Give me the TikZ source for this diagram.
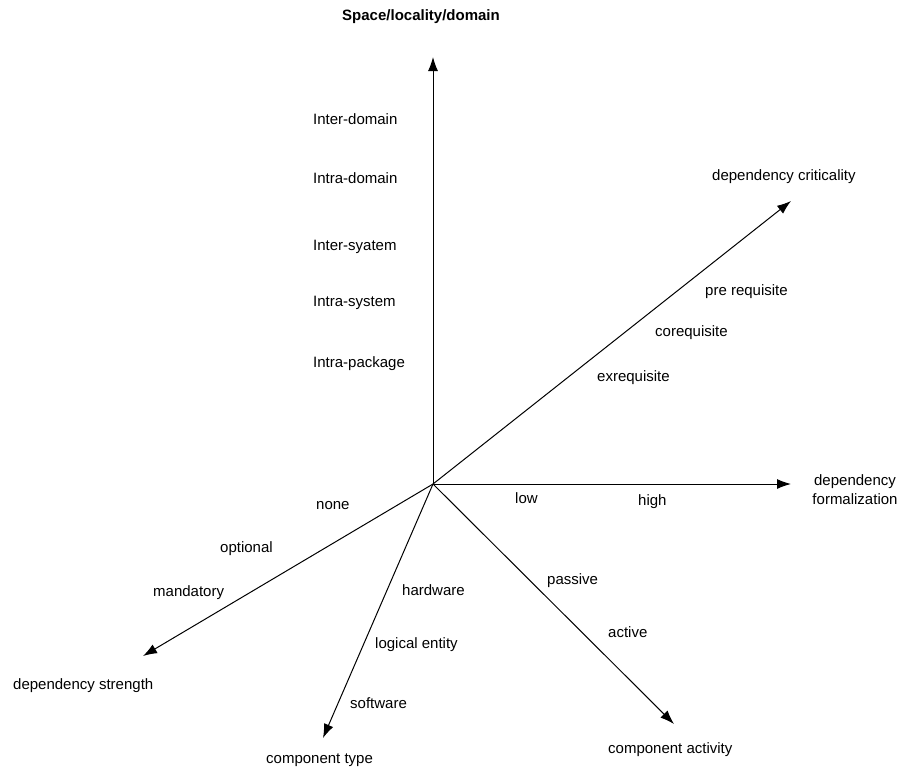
\documentclass[tikz,border=0pt]{standalone}
\usepackage{fontspec}
\setmainfont{Liberation Sans}
\usetikzlibrary{arrows.meta}
\begin{document}
\begin{tikzpicture}[x=1pt,y=-1pt,
  axis/.style={line width=1pt,-{Latex[length=14pt,width=10pt]}},
  lbl/.style={anchor=west,inner sep=0pt,font=\fontsize{15}{18}\selectfont},
  title/.style={inner sep=0pt,font=\fontsize{15}{18}\selectfont\bfseries}]
\useasboundingbox (0,0) rectangle (904,774);
% origin and axis ends
\coordinate (o) at (433,484);
\coordinate (up) at (433,57);
\coordinate (crit) at (791,201);
\coordinate (form) at (791,484);
\coordinate (strength) at (143,656);
\coordinate (ctype) at (323,738);
\coordinate (activity) at (674,724);
\draw[axis] (o) -- (up);
\draw[axis] (o) -- (crit);
\draw[axis] (o) -- (form);
\draw[axis] (o) -- (strength);
\draw[axis] (o) -- (ctype);
\draw[axis] (o) -- (activity);
% axis titles
\node[title] (tspace) at (421,17) {Space/locality/domain};
\node[lbl] (tcrit) at (712,177) {dependency criticality};
\node[inner sep=0pt,font=\fontsize{15}{19}\selectfont,align=center] (tform) at (855,490) {dependency\\formalization};
\node[lbl] (tstrength) at (13,686) {dependency strength};
\node[lbl] (ttype) at (266,760) {component type};
\node[lbl] (tact) at (608,750) {component activity};
% vertical scale
\node[lbl] (l1) at (313,119) {Inter-domain};
\node[lbl] (l2) at (313,178) {Intra-domain};
\node[lbl] (l3) at (313,247) {Inter-syatem};
\node[lbl] (l4) at (313,303) {Intra-system};
\node[lbl] (l5) at (313,364) {Intra-package};
% criticality scale
\node[lbl] (c1) at (705,292) {pre requisite};
\node[lbl] (c2) at (655,333) {corequisite};
\node[lbl] (c3) at (597,378) {exrequisite};
% formalization scale
\node[lbl] (f1) at (515,498) {low};
\node[lbl] (f2) at (638,502) {high};
% strength scale
\node[lbl] (s1) at (316,506) {none};
\node[lbl] (s2) at (220,549) {optional};
\node[lbl] (s3) at (153,593) {mandatory};
% component type scale
\node[lbl] (k1) at (402,590) {hardware};
\node[lbl] (k2) at (375,645) {logical entity};
\node[lbl] (k3) at (350,703) {software};
% activity scale
\node[lbl] (a1) at (547,581) {passive};
\node[lbl] (a2) at (608,632) {active};
\end{tikzpicture}
\end{document}
